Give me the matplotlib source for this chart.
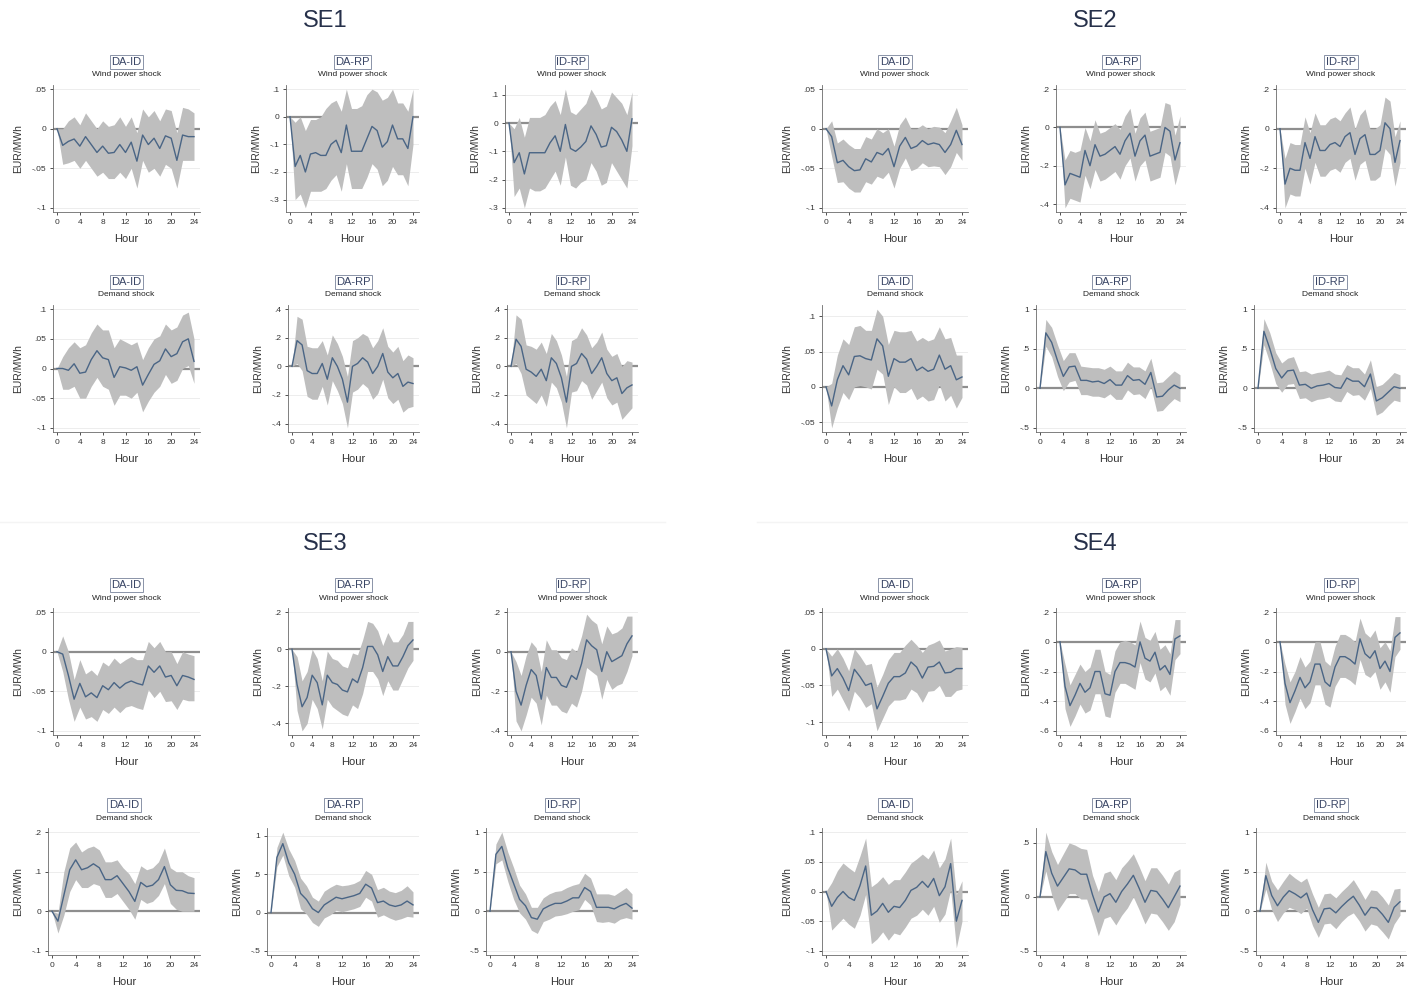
import matplotlib
matplotlib.use("Agg")
import matplotlib.pyplot as plt

plt.rcParams['font.family'] = ['Liberation Sans', 'DejaVu Sans']

hours = list(range(25))
regions = ["SE1", "SE2", "SE3", "SE4"]
shocks = ["Wind power shock", "Demand shock"]
spreads = ["DA-ID", "DA-RP", "ID-RP"]

# ---------------- SE1 ----------------
se1_wind_daid_irf = [0,-.021,-.016,-.013,-.022,-.010,-.020,-.030,-.022,-.031,-.030,-.020,-.030,-.017,-.041,-.008,-.020,-.012,-.025,-.009,-.012,-.040,-.008,-.010,-.010]
se1_wind_daid_lo = [0,-.045,-.043,-.040,-.050,-.040,-.050,-.060,-.055,-.063,-.063,-.055,-.063,-.050,-.075,-.040,-.055,-.050,-.060,-.045,-.050,-.075,-.040,-.040,-.040]
se1_wind_daid_hi = [0,.000,.010,.015,.005,.020,.010,.000,.010,.003,.005,.015,.003,.015,-.005,.025,.015,.023,.010,.025,.023,-.005,.027,.025,.020]
se1_wind_daid_ticks = [.05, 0, -.05, -.1]

se1_wind_darp_irf = [0,-.18,-.14,-.20,-.135,-.13,-.14,-.14,-.10,-.085,-.13,-.03,-.125,-.125,-.125,-.08,-.035,-.05,-.11,-.09,-.03,-.08,-.08,-.115,.00]
se1_wind_darp_lo = [0,-.30,-.28,-.33,-.27,-.27,-.27,-.26,-.23,-.21,-.27,-.17,-.26,-.26,-.26,-.22,-.17,-.19,-.25,-.23,-.18,-.21,-.21,-.25,-.10]
se1_wind_darp_hi = [0,-.02,.00,-.05,-.01,-.01,.00,.03,.05,.06,.02,.10,.03,.03,.04,.08,.10,.09,.06,.07,.10,.05,.05,.02,.10]
se1_wind_darp_ticks = [.1, 0, -.1, -.2, -.3]

se1_wind_idrp_irf = [0,-.14,-.105,-.18,-.105,-.105,-.105,-.105,-.07,-.045,-.10,-.005,-.09,-.10,-.085,-.065,-.01,-.04,-.085,-.08,-.015,-.03,-.06,-.10,.015]
se1_wind_idrp_lo = [0,-.26,-.23,-.30,-.23,-.24,-.24,-.23,-.20,-.17,-.22,-.12,-.22,-.23,-.21,-.20,-.14,-.17,-.22,-.21,-.14,-.17,-.20,-.23,-.08]
se1_wind_idrp_hi = [0,-.02,.02,-.05,.02,.02,.02,.03,.06,.08,.03,.12,.04,.03,.05,.07,.12,.09,.05,.06,.11,.09,.07,.03,.11]
se1_wind_idrp_ticks = [.1, 0, -.1, -.2, -.3]

se1_dem_daid_irf = [0,0,-.003,.008,-.008,-.006,.015,.030,.018,.015,-.015,.003,.001,-.003,.003,-.028,-.010,.007,.013,.033,.020,.025,.045,.050,.012]
se1_dem_daid_lo = [0,-.035,-.035,-.030,-.050,-.050,-.030,-.015,-.030,-.035,-.062,-.045,-.045,-.050,-.040,-.073,-.055,-.040,-.030,-.010,-.025,-.020,.000,.005,-.025]
se1_dem_daid_hi = [0,.020,.035,.045,.035,.040,.060,.075,.065,.065,.035,.050,.045,.040,.045,.015,.035,.050,.055,.075,.065,.070,.090,.095,.050]
se1_dem_daid_ticks = [.1, .05, 0, -.05, -.1]

se1_dem_darp_irf = [0,.18,.15,-.03,-.05,-.05,.02,-.09,.06,.00,-.09,-.25,.00,.02,.06,.03,-.05,.00,.09,-.04,-.08,-.05,-.14,-.11,-.12]
se1_dem_darp_lo = [0,.02,-.03,-.21,-.23,-.23,-.14,-.27,-.10,-.17,-.26,-.43,-.18,-.16,-.12,-.15,-.23,-.19,-.09,-.22,-.26,-.23,-.32,-.29,-.28]
se1_dem_darp_hi = [0,.35,.33,.14,.13,.13,.18,.08,.22,.16,.07,-.07,.18,.20,.23,.21,.13,.18,.27,.14,.10,.14,.04,.08,.06]
se1_dem_darp_ticks = [.4, .2, 0, -.2, -.4]

se1_dem_idrp_irf = [0,.19,.14,-.02,-.04,-.07,-.02,-.10,.06,.02,-.08,-.25,.00,.02,.09,.05,-.05,.00,.06,-.05,-.10,-.08,-.19,-.15,-.13]
se1_dem_idrp_lo = [0,.02,-.05,-.20,-.23,-.26,-.20,-.28,-.11,-.15,-.25,-.43,-.18,-.17,-.10,-.13,-.23,-.17,-.11,-.22,-.27,-.25,-.37,-.33,-.29]
se1_dem_idrp_hi = [0,.36,.33,.15,.14,.12,.17,.09,.23,.18,.08,-.07,.18,.20,.27,.22,.13,.17,.24,.12,.07,.09,.00,.04,.03]
se1_dem_idrp_ticks = [.4, .2, 0, -.2, -.4]

# ---------------- SE2 ----------------
se2_wind_daid_irf = [0,-.010,-.043,-.040,-.048,-.053,-.052,-.038,-.042,-.030,-.033,-.025,-.048,-.022,-.011,-.025,-.022,-.015,-.020,-.018,-.020,-.030,-.020,-.002,-.020]
se2_wind_daid_lo = [0,-.035,-.068,-.067,-.075,-.080,-.080,-.067,-.070,-.060,-.063,-.055,-.075,-.050,-.037,-.053,-.050,-.043,-.048,-.047,-.048,-.058,-.048,-.030,-.040]
se2_wind_daid_hi = [0,.010,-.018,-.013,-.020,-.025,-.025,-.010,-.013,.000,-.005,.000,-.022,.005,.015,.000,.000,.005,.000,.003,.002,-.005,.010,.027,.005]
se2_wind_daid_ticks = [.05, 0, -.05, -.1]

se2_wind_darp_irf = [0,-.30,-.24,-.25,-.26,-.12,-.20,-.09,-.15,-.14,-.12,-.10,-.14,-.07,-.03,-.15,-.07,-.04,-.15,-.14,-.13,.00,-.02,-.17,-.08]
se2_wind_darp_lo = [0,-.42,-.37,-.38,-.39,-.25,-.32,-.22,-.28,-.27,-.25,-.23,-.27,-.20,-.16,-.28,-.20,-.17,-.28,-.27,-.26,-.13,-.15,-.30,-.20]
se2_wind_darp_hi = [0,-.17,-.12,-.13,-.12,.00,-.07,.04,-.03,-.02,.00,.02,-.01,.06,.10,-.03,.05,.08,-.02,-.01,.00,.13,.12,-.04,.06]
se2_wind_darp_ticks = [.2, 0, -.2, -.4]

se2_wind_idrp_irf = [0,-.28,-.20,-.21,-.21,-.07,-.15,-.04,-.11,-.11,-.08,-.07,-.09,-.04,-.02,-.13,-.05,-.03,-.13,-.13,-.11,.03,.00,-.17,-.06]
se2_wind_idrp_lo = [0,-.40,-.33,-.34,-.34,-.20,-.28,-.17,-.24,-.24,-.21,-.20,-.22,-.17,-.15,-.26,-.18,-.16,-.26,-.26,-.24,-.10,-.13,-.29,-.17]
se2_wind_idrp_hi = [0,-.15,-.07,-.08,-.08,.06,-.02,.08,.02,.02,.05,.06,.04,.08,.11,.00,.07,.10,.00,.00,.02,.16,.14,-.04,.04]
se2_wind_idrp_ticks = [.2, 0, -.2, -.4]

se2_dem_daid_irf = [0,-.027,.010,.030,.017,.043,.044,.040,.038,.068,.058,.015,.040,.035,.035,.040,.023,.028,.022,.025,.045,.025,.030,.010,.014]
se2_dem_daid_lo = [0,-.058,-.030,-.008,-.018,.000,.002,.000,-.003,.025,.018,-.025,.000,-.008,-.008,-.002,-.018,-.013,-.020,-.018,.003,-.020,-.012,-.030,-.015]
se2_dem_daid_hi = [0,.005,.045,.068,.060,.085,.087,.080,.080,.110,.100,.060,.080,.078,.078,.080,.065,.070,.065,.068,.085,.068,.070,.045,.045]
se2_dem_daid_ticks = [.1, .05, 0, -.05]

se2_dem_darp_irf = [0,.70,.58,.35,.15,.27,.28,.10,.10,.08,.09,.06,.11,.04,.04,.16,.10,.11,.05,.20,-.11,-.10,-.02,.04,.00]
se2_dem_darp_lo = [0,.53,.40,.15,-.03,.08,.10,-.08,-.08,-.10,-.10,-.12,-.07,-.14,-.14,-.02,-.08,-.07,-.13,.02,-.29,-.28,-.20,-.13,-.17]
se2_dem_darp_hi = [0,.87,.77,.55,.35,.45,.45,.28,.27,.26,.26,.24,.28,.22,.22,.33,.27,.27,.22,.38,.07,.08,.15,.22,.17]
se2_dem_darp_ticks = [1, .5, 0, -.5]

se2_dem_idrp_irf = [0,.72,.50,.25,.13,.22,.23,.04,.05,.00,.03,.04,.06,.01,.00,.13,.09,.09,.02,.18,-.16,-.12,-.05,.02,.00]
se2_dem_idrp_lo = [0,.55,.32,.06,-.05,.05,.06,-.13,-.12,-.17,-.14,-.13,-.11,-.16,-.17,-.04,-.09,-.08,-.15,.00,-.34,-.30,-.22,-.15,-.17]
se2_dem_idrp_hi = [0,.88,.70,.45,.32,.38,.40,.21,.22,.18,.20,.21,.23,.18,.17,.30,.26,.26,.18,.36,.02,.05,.12,.20,.17]
se2_dem_idrp_ticks = [1, .5, 0, -.5]

# ---------------- SE3 ----------------
se3_wind_daid_irf = [0,-.003,-.030,-.060,-.040,-.057,-.052,-.058,-.043,-.048,-.039,-.046,-.040,-.037,-.040,-.042,-.018,-.026,-.018,-.032,-.030,-.043,-.030,-.032,-.035]
se3_wind_daid_lo = [0,-.025,-.060,-.088,-.070,-.085,-.082,-.088,-.073,-.078,-.070,-.077,-.070,-.068,-.071,-.073,-.048,-.058,-.050,-.063,-.062,-.073,-.060,-.062,-.062]
se3_wind_daid_hi = [0,.020,.000,-.035,-.010,-.028,-.023,-.030,-.013,-.018,-.008,-.015,-.010,-.006,-.010,-.010,.013,.005,.013,.000,.000,-.015,.000,-.003,-.005]
se3_wind_daid_ticks = [.05, 0, -.05, -.1]

se3_wind_darp_irf = [0,-.19,-.31,-.26,-.14,-.18,-.30,-.14,-.18,-.19,-.22,-.23,-.16,-.18,-.10,.015,.015,-.03,-.12,-.04,-.09,-.09,-.04,.02,.05]
se3_wind_darp_lo = [0,-.33,-.44,-.40,-.27,-.32,-.43,-.27,-.31,-.33,-.35,-.36,-.30,-.32,-.24,-.12,-.12,-.16,-.25,-.17,-.22,-.22,-.16,-.10,-.06]
se3_wind_darp_hi = [0,-.04,-.17,-.12,.00,-.05,-.17,-.01,-.05,-.06,-.09,-.10,-.02,-.03,.05,.15,.14,.10,.02,.09,.04,.04,.08,.15,.15]
se3_wind_darp_ticks = [.2, 0, -.2, -.4]

se3_wind_idrp_irf = [0,-.20,-.27,-.17,-.09,-.12,-.24,-.08,-.13,-.13,-.17,-.18,-.12,-.14,-.06,.06,.03,.01,-.10,.00,-.05,-.035,-.02,.04,.08]
se3_wind_idrp_lo = [0,-.35,-.40,-.32,-.23,-.26,-.37,-.22,-.27,-.27,-.30,-.31,-.26,-.28,-.20,-.08,-.10,-.12,-.24,-.14,-.19,-.17,-.16,-.10,-.02]
se3_wind_idrp_hi = [0,-.05,-.12,-.02,.05,.02,-.10,.06,.01,.01,-.03,-.04,.02,.00,.08,.19,.16,.14,.04,.13,.09,.10,.12,.18,.18]
se3_wind_idrp_ticks = [.2, 0, -.2, -.4]

se3_dem_daid_irf = [0,-.025,.040,.105,.130,.105,.110,.120,.110,.080,.080,.090,.070,.050,.025,.073,.062,.066,.080,.113,.067,.053,.052,.046,.045]
se3_dem_daid_lo = [0,-.055,-.010,.050,.080,.060,.060,.070,.065,.035,.035,.045,.025,.005,-.020,.030,.020,.025,.040,.070,.020,.005,.000,.000,.000]
se3_dem_daid_hi = [0,-.005,.100,.160,.175,.150,.160,.165,.155,.125,.125,.130,.110,.095,.070,.115,.105,.110,.125,.160,.110,.100,.100,.090,.085]
se3_dem_daid_ticks = [.2, .1, 0, -.1]

se3_dem_darp_irf = [0,.72,.90,.65,.50,.25,.17,.05,.00,.10,.15,.20,.18,.20,.22,.25,.37,.32,.13,.15,.10,.08,.10,.15,.10]
se3_dem_darp_lo = [0,.60,.75,.48,.33,.05,-.02,-.13,-.18,-.07,-.03,.03,.01,.03,.05,.08,.20,.15,-.06,-.03,-.07,-.10,-.08,-.05,-.06]
se3_dem_darp_hi = [0,.85,1.05,.83,.68,.45,.35,.20,.15,.28,.33,.37,.35,.36,.38,.42,.55,.50,.30,.33,.28,.26,.29,.35,.27]
se3_dem_darp_ticks = [1, .5, 0, -.5]

se3_dem_idrp_irf = [0,.72,.82,.55,.35,.15,.07,-.08,-.10,.03,.07,.10,.10,.13,.17,.17,.30,.25,.05,.05,.05,.03,.07,.10,.04]
se3_dem_idrp_lo = [0,.60,.65,.38,.15,-.02,-.10,-.24,-.28,-.13,-.10,-.06,-.05,-.03,.00,.02,.15,.08,-.13,-.14,-.13,-.15,-.10,-.08,-.10]
se3_dem_idrp_hi = [0,.85,1.00,.75,.55,.33,.22,.05,.05,.17,.22,.25,.26,.30,.33,.35,.48,.42,.22,.22,.22,.20,.25,.30,.22]
se3_dem_idrp_ticks = [1, .5, 0, -.5]

# ---------------- SE4 ----------------
se4_wind_daid_irf = [0,-.037,-.027,-.040,-.057,-.028,-.038,-.050,-.047,-.082,-.065,-.047,-.038,-.038,-.033,-.018,-.025,-.040,-.025,-.024,-.018,-.033,-.032,-.027,-.027]
se4_wind_daid_lo = [0,-.065,-.055,-.070,-.085,-.058,-.067,-.080,-.075,-.112,-.095,-.078,-.070,-.070,-.068,-.055,-.060,-.073,-.058,-.057,-.050,-.065,-.065,-.057,-.055]
se4_wind_daid_hi = [0,-.010,.000,-.013,-.030,.000,-.010,-.022,-.020,-.052,-.035,-.015,-.005,-.005,.005,.013,.005,-.005,.005,.008,.012,-.003,.000,.003,.002]
se4_wind_daid_ticks = [.05, 0, -.05, -.1]

se4_wind_darp_irf = [0,-.30,-.43,-.36,-.28,-.34,-.31,-.20,-.20,-.35,-.36,-.20,-.14,-.14,-.15,-.17,.00,-.11,-.13,-.07,-.19,-.16,-.22,.02,.04]
se4_wind_darp_lo = [0,-.45,-.57,-.50,-.42,-.48,-.46,-.35,-.35,-.50,-.51,-.34,-.28,-.28,-.30,-.32,-.14,-.25,-.27,-.21,-.33,-.30,-.36,-.12,-.08]
se4_wind_darp_hi = [0,-.15,-.29,-.22,-.15,-.20,-.17,-.05,-.05,-.20,-.22,-.06,.00,.01,.00,-.02,.14,.03,.01,.07,-.05,-.02,-.08,.15,.15]
se4_wind_darp_ticks = [.2, 0, -.2, -.4, -.6]

se4_wind_idrp_irf = [0,-.28,-.41,-.33,-.24,-.31,-.27,-.15,-.15,-.27,-.30,-.17,-.10,-.10,-.12,-.15,.02,-.08,-.11,-.06,-.18,-.13,-.20,.03,.06]
se4_wind_idrp_lo = [0,-.42,-.55,-.47,-.38,-.45,-.41,-.29,-.29,-.42,-.44,-.30,-.24,-.24,-.26,-.29,-.12,-.22,-.24,-.20,-.32,-.27,-.34,-.10,-.05]
se4_wind_idrp_hi = [0,-.15,-.27,-.20,-.10,-.17,-.13,.00,.00,-.13,-.16,-.03,.05,.05,.03,.00,.16,.06,.03,.08,-.04,.00,-.06,.17,.17]
se4_wind_idrp_ticks = [.2, 0, -.2, -.4, -.6]

se4_dem_daid_irf = [0,-.025,-.010,.000,-.010,-.015,.010,.043,-.040,-.033,-.020,-.035,-.025,-.027,-.015,.002,.007,.017,.007,.022,-.007,.008,.047,-.050,-.015]
se4_dem_daid_lo = [0,-.065,-.055,-.045,-.055,-.062,-.040,-.005,-.088,-.080,-.068,-.082,-.070,-.073,-.060,-.045,-.040,-.030,-.040,-.025,-.052,-.038,.003,-.095,-.050]
se4_dem_daid_hi = [0,.015,.035,.048,.040,.033,.060,.090,.008,.015,.025,.012,.020,.020,.033,.048,.055,.063,.055,.070,.040,.055,.090,-.005,.018]
se4_dem_daid_ticks = [.1, .05, 0, -.05, -.1]

se4_dem_darp_irf = [0,.42,.22,.10,.18,.26,.25,.21,.21,.02,-.14,.00,.03,-.05,.05,.12,.20,.08,-.05,.06,.05,-.02,-.10,.00,.10]
se4_dem_darp_lo = [0,.24,.02,-.13,-.05,.03,.03,-.02,-.02,-.18,-.36,-.20,-.18,-.26,-.17,-.10,.00,-.12,-.25,-.15,-.16,-.23,-.31,-.23,-.07]
se4_dem_darp_hi = [0,.60,.42,.30,.40,.50,.48,.45,.44,.20,.05,.22,.24,.16,.27,.33,.40,.28,.15,.27,.27,.20,.12,.23,.26]
se4_dem_darp_ticks = [.5, 0, -.5]

se4_dem_idrp_irf = [0,.45,.20,.07,.18,.26,.22,.17,.23,.02,-.14,.03,.04,-.02,.06,.13,.19,.08,-.05,.05,.04,-.04,-.14,.05,.12]
se4_dem_idrp_lo = [0,.28,.02,-.13,-.02,.05,.02,-.03,.04,-.18,-.33,-.16,-.15,-.22,-.13,-.06,-.02,-.12,-.25,-.16,-.18,-.26,-.35,-.16,-.05]
se4_dem_idrp_hi = [0,.62,.38,.27,.38,.48,.42,.37,.42,.22,.05,.22,.23,.17,.25,.32,.40,.28,.15,.27,.26,.18,.08,.28,.29]
se4_dem_idrp_ticks = [1, .5, 0, -.5]

G = globals()

# ---------------- layout (pixels) ----------------
W, H = 1408, 992
xpix = {
    ("SE1", 0): [(57, 194), (290, 413), (509, 632)],
    ("SE1", 1): [(57, 194), (292, 413), (511, 632)],
    ("SE2", 0): [(826, 962), (1060, 1180), (1280, 1400)],
    ("SE2", 1): [(826, 962), (1040, 1180), (1258, 1400)],
    ("SE3", 0): [(57, 194), (292, 413), (511, 632)],
    ("SE3", 1): [(52, 194), (271, 413), (490, 632)],
    ("SE4", 0): [(826, 962), (1060, 1180), (1280, 1400)],
    ("SE4", 1): [(826, 962), (1040, 1180), (1260, 1400)],
}
region_yoff = {"SE1": 0, "SE2": 0, "SE3": 523, "SE4": 523}
region_title_x = {"SE1": 325, "SE2": 1095, "SE3": 325, "SE4": 1095}
row_off = [0, 220]
plot_top, plot_bot = 85, 212

BAND = "#bebebe"
LINE = "#4a6585"
ZERO = "#8e8e8e"
AXC = "#6a6a6a"

fig = plt.figure(figsize=(W / 100, H / 100), dpi=100)
fig.patch.set_facecolor("white")


def fmt(v):
    if v == 0:
        return "0"
    s = ("%g" % abs(v))
    if s.startswith("0."):
        s = s[1:]
    return ("-" if v < 0 else "") + s


def fx(px):
    return px / W


def fy(py):
    return 1 - py / H


for x0, x1 in [(0, 665), (757, 1408)]:
    fig.add_artist(plt.Line2D([fx(x0), fx(x1)], [fy(522), fy(522)], color="#f4f4f4", lw=1.0))

for reg in regions:
    yo = region_yoff[reg]
    fig.text(fx(region_title_x[reg]), fy(21 + yo), reg, ha="center", va="center",
             fontsize=17, color="#26304a")
    for r, shock in enumerate(shocks):
        key = "wind" if r == 0 else "dem"
        for c, sp in enumerate(spreads):
            name = f"{reg.lower()}_{key}_{sp.replace('-', '').lower()}"
            irf = G[name + "_irf"]
            lo = G[name + "_lo"]
            hi = G[name + "_hi"]
            ticks = G[name + "_ticks"]
            x0p, x24p = xpix[(reg, r)][c]
            sc = (x24p - x0p) / 24.0
            left_px = x0p - 4
            right_px = x24p + 6
            top_px = plot_top + yo + row_off[r]
            bot_px = plot_bot + yo + row_off[r]
            ax = fig.add_axes([fx(left_px), fy(bot_px), (right_px - left_px) / W, (bot_px - top_px) / H])
            ax.set_xlim(-4 / sc, 24 + 6 / sc)
            ymin = min(min(ticks), min(lo))
            ymax = max(max(ticks), max(hi))
            pad = 0.035 * (ymax - ymin)
            ax.set_ylim(ymin - pad, ymax + pad)
            for t in ticks:
                if t != 0:
                    ax.axhline(t, color="#ededed", lw=0.7, zorder=0)
            ax.axhline(0, color=ZERO, lw=1.6, zorder=1)
            ax.fill_between(hours, lo, hi, color=BAND, lw=0, zorder=2)
            ax.plot(hours, irf, color=LINE, lw=1.0, zorder=3)
            ax.set_xticks([0, 4, 8, 12, 16, 20, 24])
            ax.set_xticklabels(["0", "4", "8", "12", "16", "20", "24"])
            ax.set_yticks(ticks)
            ax.set_yticklabels([fmt(t) for t in ticks])
            ax.tick_params(axis="both", labelsize=6, length=2.5, width=0.6, pad=2.5,
                           colors="#333333")
            for s in ["top", "right"]:
                ax.spines[s].set_visible(False)
            for s in ["left", "bottom"]:
                ax.spines[s].set_color(AXC)
                ax.spines[s].set_linewidth(0.6)
            ax.set_xlabel("Hour", fontsize=8, color="#333333", labelpad=6)
            ax.set_ylabel("EUR/MWh", fontsize=7.5, color="#333333", labelpad=6)
            ax.patch.set_alpha(0)
            cx = (left_px + right_px) / 2
            fig.text(fx(cx), fy(62 + yo + row_off[r]), sp, ha="center", va="center",
                     fontsize=8, color="#3a4666",
                     bbox=dict(boxstyle="square,pad=0.15", fc="white", ec="#8a93a8", lw=0.7))
            fig.text(fx(cx), fy(75 + yo + row_off[r]), shock, ha="center", va="center",
                     fontsize=6, color="#222222")

fig.savefig("out.png", dpi=100, facecolor="white")
